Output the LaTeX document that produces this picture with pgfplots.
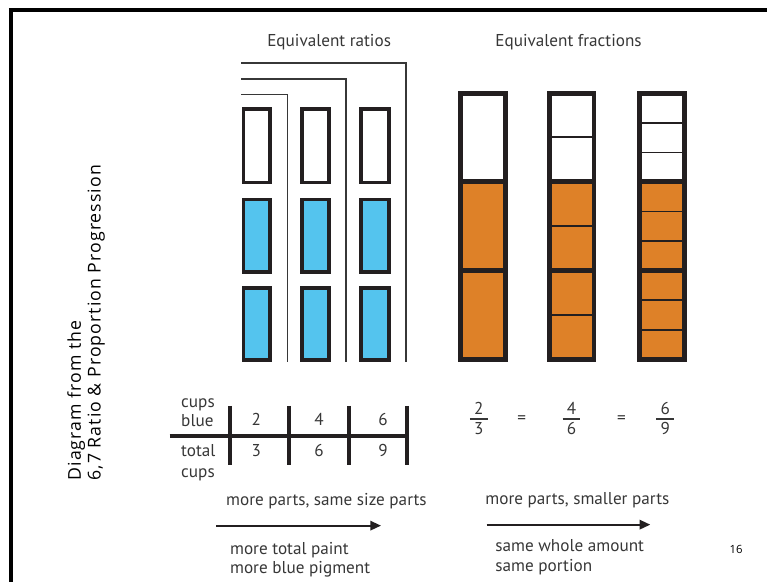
\documentclass[border=0pt]{standalone}
\usepackage{fontspec}
\setmainfont{PT Sans}
\newfontfamily\osans{Open Sans}
\newfontfamily\vsans[LetterSpace=6]{Open Sans}
\usepackage{pgfplots}
\pgfplotsset{compat=1.18}
\usetikzlibrary{arrows.meta}
\definecolor{cupblue}{RGB}{84,196,238}
\definecolor{cuporange}{RGB}{222,129,40}
\definecolor{ink}{RGB}{35,31,32}
\definecolor{txt}{RGB}{55,55,55}
\newcommand{\rect}[5]{\addplot[#5] coordinates {(#1,#2) (#3,#2) (#3,#4) (#1,#4)} -- cycle;}
\newcommand{\hl}[4]{\addplot[#4] coordinates {(#1,#3) (#2,#3)};}
\newcommand{\f}{\fontsize{12.9}{15}\selectfont}
\begin{document}
\begin{tikzpicture}
\begin{axis}[scale only axis, width=576.75pt, height=438pt,
  xmin=0, xmax=769, ymin=0, ymax=584, y dir=reverse,
  hide axis, clip=false]
\addplot[draw=none] coordinates {(0,0) (769,584)};
% frame
\addplot[black, line width=3pt] coordinates {(9,10) (769,10)};
\addplot[black, line width=3pt] coordinates {(11,8.5) (11,584)};
% titles
\node[anchor=base, font=\f, text=txt] at (axis cs:330,47) {Equivalent ratios};
\node[anchor=base, font=\f, text=txt] at (axis cs:570,47) {Equivalent fractions};
% vertical text
\node[anchor=base west, rotate=90, font=\vsans\fontsize{13.3}{16}\selectfont, text=black, inner xsep=0pt] at (axis cs:81,482) {Diagram from the};
\node[anchor=base west, rotate=90, font=\vsans\fontsize{13.3}{16}\selectfont, text=black, inner xsep=0pt] at (axis cs:101,482) {6,7 Ratio \& Proportion Progression};
% brackets
\addplot[txt, line width=1.1pt] coordinates {(242,95) (288,95) (288,363)};
\addplot[txt, line width=1.1pt] coordinates {(242,79) (347,79) (347,363)};
\addplot[txt, line width=1.1pt] coordinates {(242,63) (407,63) (407,363)};
% ratio cups
\rect{244}{109}{271}{183}{fill=white, draw=ink, line width=2.8pt, line join=miter}
\rect{244}{200}{271}{273}{fill=cupblue, draw=ink, line width=2.8pt, line join=miter}
\rect{244}{289}{271}{361}{fill=cupblue, draw=ink, line width=2.8pt, line join=miter}
\rect{303}{109}{330}{183}{fill=white, draw=ink, line width=2.8pt, line join=miter}
\rect{303}{200}{330}{273}{fill=cupblue, draw=ink, line width=2.8pt, line join=miter}
\rect{303}{289}{330}{361}{fill=cupblue, draw=ink, line width=2.8pt, line join=miter}
\rect{362}{109}{390}{183}{fill=white, draw=ink, line width=2.8pt, line join=miter}
\rect{362}{200}{390}{273}{fill=cupblue, draw=ink, line width=2.8pt, line join=miter}
\rect{362}{289}{390}{361}{fill=cupblue, draw=ink, line width=2.8pt, line join=miter}
% fraction bars: fills
\rect{461.5}{93.5}{506.5}{182}{fill=white, draw=none}
\rect{461.5}{182}{506.5}{360.5}{fill=cuporange, draw=none}
\rect{550.5}{93.5}{595.5}{182}{fill=white, draw=none}
\rect{550.5}{182}{595.5}{360.5}{fill=cuporange, draw=none}
\rect{641.5}{93.5}{686}{182}{fill=white, draw=none}
\rect{641.5}{182}{686}{360.5}{fill=cuporange, draw=none}
% thin subdivisions
\hl{550.5}{595.5}{137.5}{ink, line width=1.3pt}
\hl{550.5}{595.5}{226.5}{ink, line width=1.3pt}
\hl{550.5}{595.5}{316}{ink, line width=1.3pt}
\hl{641.5}{686}{123.2}{ink, line width=1.2pt}
\hl{641.5}{686}{152.8}{ink, line width=1.2pt}
\hl{641.5}{686}{212}{ink, line width=1.2pt}
\hl{641.5}{686}{241.5}{ink, line width=1.2pt}
\hl{641.5}{686}{301}{ink, line width=1.2pt}
\hl{641.5}{686}{331}{ink, line width=1.2pt}
% thick thirds
\hl{461.5}{506.5}{182}{ink, line width=3.6pt}
\hl{461.5}{506.5}{271.5}{ink, line width=3.6pt}
\hl{550.5}{595.5}{182}{ink, line width=3.6pt}
\hl{550.5}{595.5}{271.5}{ink, line width=3.6pt}
\hl{641.5}{686}{182}{ink, line width=3.6pt}
\hl{641.5}{686}{271.5}{ink, line width=3.6pt}
% outlines
\rect{461.5}{93.5}{506.5}{360.5}{draw=ink, line width=3.7pt, line join=miter}
\rect{550.5}{93.5}{595.5}{360.5}{draw=ink, line width=3.7pt, line join=miter}
\rect{641.5}{93.5}{686}{360.5}{draw=ink, line width=3.7pt, line join=miter}
% ratio table
\addplot[ink, line width=3pt] coordinates {(170,437) (410,437)};
\addplot[ink, line width=3pt] coordinates {(231,407) (231,466)};
\addplot[ink, line width=3pt] coordinates {(290,407) (290,466)};
\addplot[ink, line width=3pt] coordinates {(350,407) (350,466)};
\addplot[ink, line width=3pt] coordinates {(408,407) (408,466)};
\node[anchor=base west, font=\f, text=txt] at (axis cs:177,409) {cups};
\node[anchor=base west, font=\f, text=txt] at (axis cs:177,428) {blue};
\node[anchor=base west, font=\f, text=txt] at (axis cs:177,458) {total};
\node[anchor=base west, font=\f, text=txt] at (axis cs:177,479) {cups};
\node[anchor=base, font=\f, text=txt] at (axis cs:257,427) {2};
\node[anchor=base, font=\f, text=txt] at (axis cs:320,427) {4};
\node[anchor=base, font=\f, text=txt] at (axis cs:384,427) {6};
\node[anchor=base, font=\f, text=txt] at (axis cs:257,458) {3};
\node[anchor=base, font=\f, text=txt] at (axis cs:320,458) {6};
\node[anchor=base, font=\f, text=txt] at (axis cs:384,458) {9};
% fractions
\node[anchor=base, font=\f, text=txt] at (axis cs:480,416) {2};
\node[anchor=base, font=\f, text=txt] at (axis cs:480,436) {3};
\hl{471}{489}{420.5}{txt, line width=1.4pt}
\node[anchor=base, font=\f, text=txt] at (axis cs:523,425) {=};
\node[anchor=base, font=\f, text=txt] at (axis cs:573,416) {4};
\node[anchor=base, font=\f, text=txt] at (axis cs:573,436) {6};
\hl{564}{582}{420.5}{txt, line width=1.4pt}
\node[anchor=base, font=\f, text=txt] at (axis cs:623,425) {=};
\node[anchor=base, font=\f, text=txt] at (axis cs:667,416) {6};
\node[anchor=base, font=\f, text=txt] at (axis cs:667,436) {9};
\hl{658}{676}{420.5}{txt, line width=1.4pt}
% bottom texts and arrows
\node[anchor=base west, font=\f, text=txt] at (axis cs:222,507) {more parts, same size parts};
\addplot[ink, line width=1.5pt, -{Triangle[length=8pt,width=7pt]}] coordinates {(217,527) (382,527)};
\node[anchor=base west, font=\f, text=txt] at (axis cs:226,556) {more total paint};
\node[anchor=base west, font=\f, text=txt] at (axis cs:226,575) {more blue pigment};
\node[anchor=base west, font=\f, text=txt] at (axis cs:482,506) {more parts, smaller parts};
\addplot[ink, line width=1.5pt, -{Triangle[length=8pt,width=7pt]}] coordinates {(488,526) (652,526)};
\node[anchor=base west, font=\f, text=txt] at (axis cs:492,553) {same whole amount};
\node[anchor=base west, font=\f, text=txt] at (axis cs:492,573) {same portion};
% page number
\node[anchor=base, font=\osans\fontsize{8.5}{10}\selectfont, text=black] at (axis cs:738,555) {16};
\end{axis}
\end{tikzpicture}
\end{document}
